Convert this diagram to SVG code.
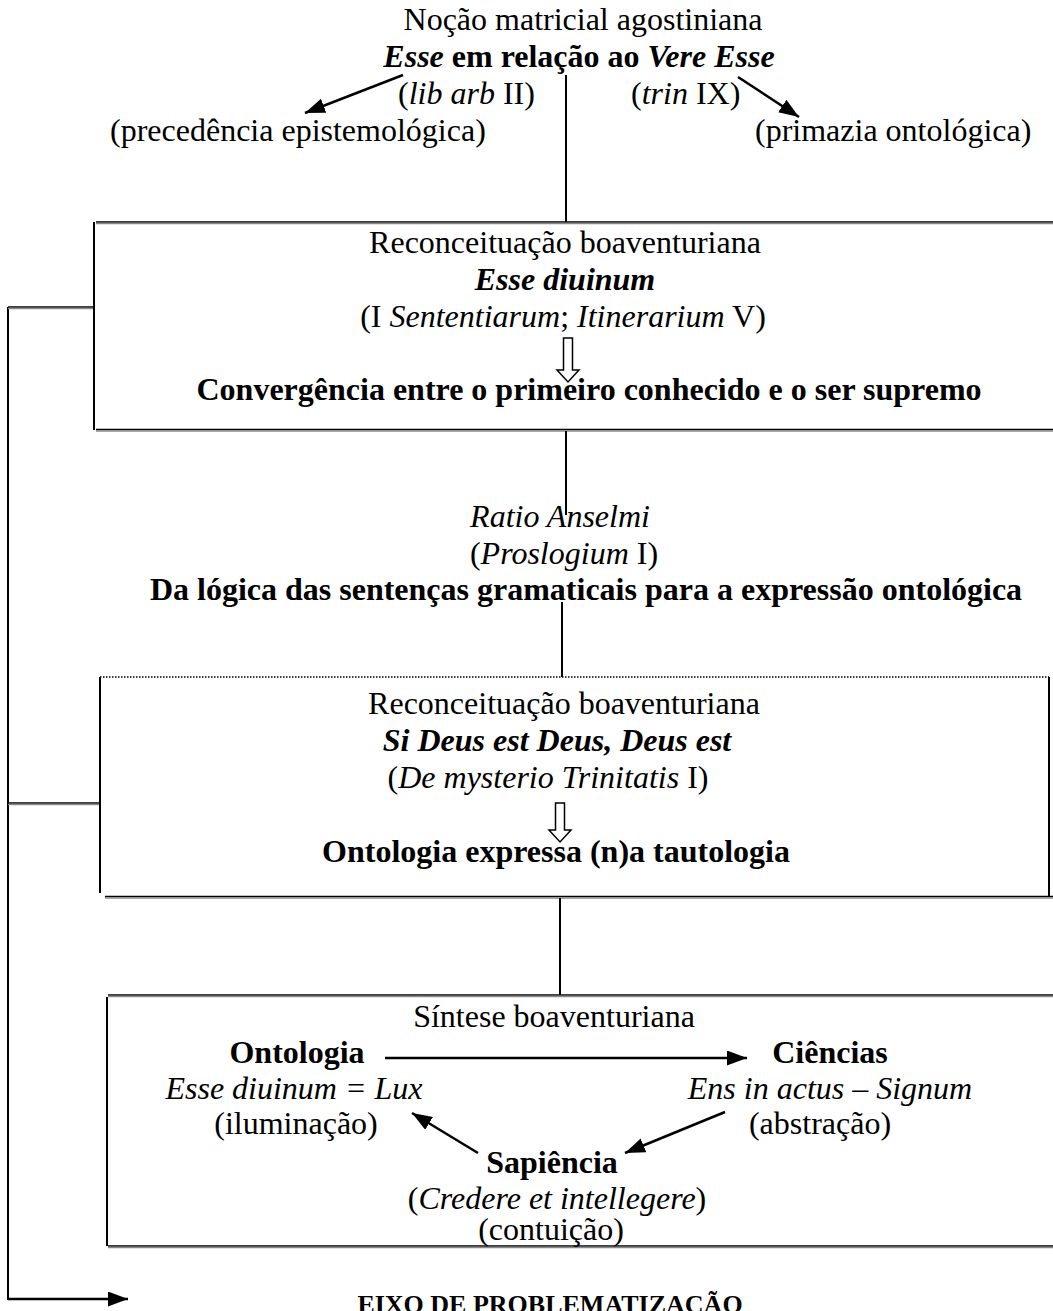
<svg xmlns="http://www.w3.org/2000/svg" width="1053" height="1311" viewBox="0 0 1053 1311">
<defs>
<style>
text{font-family:"Liberation Serif","Times New Roman",serif;font-size:32px;fill:#000}
.m{text-anchor:middle}
.b{font-weight:bold}
.i{font-style:italic}
.ln{stroke:#000;stroke-width:2;fill:none}
.ar{stroke:#000;stroke-width:2.5;fill:none}
.bl{stroke:#000;stroke-width:1.5;fill:none}
.sh{stroke:#8a8a8a;stroke-width:1.5;fill:none}
.dot{stroke:#000;stroke-width:1.5;stroke-dasharray:1.5 1.5;fill:none}
.ha{fill:#fff;stroke:#000;stroke-width:1.5}
</style>
<marker id="ah" markerUnits="userSpaceOnUse" markerWidth="22" markerHeight="16" refX="20" refY="7.5" orient="auto">
<path d="M0,0 L20,7.5 L0,15 z" fill="#000"/>
</marker>
</defs>
<rect width="1053" height="1311" fill="#fff"/>

<g id="top">
<text class="m" x="583" y="30">Noção matricial agostiniana</text>
<text class="m b" x="579" y="67"><tspan class="i">Esse</tspan> em relação ao <tspan class="i">Vere Esse</tspan></text>
<text x="398" y="104">(<tspan class="i">lib arb</tspan> II)</text>
<text x="631" y="104">(<tspan class="i">trin</tspan> IX)</text>
<text x="110" y="141">(precedência epistemológica)</text>
<text x="755" y="141">(primazia ontológica)</text>
</g>

<g id="box1">
<line class="bl" x1="96" y1="222" x2="1053" y2="222"/>
<line class="sh" x1="96" y1="223.5" x2="1053" y2="223.5"/>
<line class="ln" x1="94" y1="222" x2="94" y2="430"/>
<line class="bl" x1="96" y1="429.5" x2="1053" y2="429.5"/>
<line class="sh" x1="96" y1="431" x2="1053" y2="431"/>
<text class="m" x="565" y="253">Reconceituação boaventuriana</text>
<text class="m b i" x="565" y="290">Esse diuinum</text>
<text class="m" x="563" y="327">(I <tspan class="i">Sententiarum</tspan>; <tspan class="i">Itinerarium</tspan> V)</text>
<path class="ha" d="M563.5,338 H572.5 V370 H579 L568,382 L557,370 H563.5 Z"/>
<text class="m b" x="589" y="400">Convergência entre o primeiro conhecido e o ser supremo</text>
</g>

<g id="mid">
<text class="m i" x="560" y="527">Ratio Anselmi</text>
<text class="m" x="564" y="564">(<tspan class="i">Proslogium</tspan> I)</text>
<text class="m b" x="586" y="600">Da lógica das sentenças gramaticais para a expressão ontológica</text>
</g>

<g id="box2">
<line class="dot" x1="100" y1="677" x2="1049" y2="677"/>
<line class="ln" x1="100" y1="677" x2="100" y2="893"/>
<line class="ln" x1="1049" y1="677" x2="1049" y2="897"/>
<line class="bl" x1="105" y1="896.5" x2="1053" y2="896.5"/>
<line class="sh" x1="105" y1="898" x2="1053" y2="898"/>
<text class="m" x="564" y="714">Reconceituação boaventuriana</text>
<text class="m b i" x="557" y="751">Si Deus est Deus, Deus est</text>
<text class="m" x="548" y="788">(<tspan class="i">De mysterio Trinitatis</tspan> I)</text>
<path class="ha" d="M555.5,803 H564.5 V830 H571 L560,842 L549,830 H555.5 Z"/>
<text class="m b" x="556" y="862">Ontologia expressa (n)a tautologia</text>
</g>

<g id="box3">
<line class="bl" x1="108" y1="995" x2="1053" y2="995"/>
<line class="sh" x1="108" y1="996.5" x2="1053" y2="996.5"/>
<line class="ln" x1="107" y1="997" x2="107" y2="1246"/>
<line class="bl" x1="108" y1="1246" x2="1053" y2="1246"/>
<line class="sh" x1="108" y1="1247.5" x2="1053" y2="1247.5"/>
<text class="m" x="554" y="1027">Síntese boaventuriana</text>
<text class="m b" x="297" y="1063">Ontologia</text>
<text class="m b" x="830" y="1063">Ciências</text>
<text class="m i" x="294" y="1099">Esse diuinum = Lux</text>
<text class="m i" x="830" y="1099">Ens in actus – Signum</text>
<text class="m" x="296" y="1134">(iluminação)</text>
<text class="m" x="820" y="1134">(abstração)</text>
<text class="m b" x="552" y="1173">Sapiência</text>
<text class="m" x="557" y="1209">(<tspan class="i">Credere et intellegere</tspan>)</text>
<text class="m" x="551" y="1240">(contuição)</text>
</g>

<g id="axis-label">
<text class="m b" x="550" y="1313" style="font-size:26px">EIXO DE PROBLEMATIZAÇÃO</text>
</g>

<g id="connectors">
<line class="ar" x1="403" y1="75" x2="305" y2="113" marker-end="url(#ah)"/>
<line class="ar" x1="738" y1="77" x2="799" y2="117" marker-end="url(#ah)"/>
<line class="ln" x1="566" y1="75" x2="566" y2="222"/>
<line class="ln" x1="566" y1="431" x2="566" y2="515"/>
<line class="ln" x1="562" y1="602" x2="562" y2="677"/>
<line class="ln" x1="560" y1="898" x2="560" y2="995"/>
<line class="ar" x1="385" y1="1058" x2="747" y2="1058" marker-end="url(#ah)"/>
<line class="ar" x1="478" y1="1153" x2="412" y2="1113" marker-end="url(#ah)"/>
<line class="ar" x1="725" y1="1112" x2="625" y2="1153" marker-end="url(#ah)"/>
<line class="ln" x1="8" y1="307" x2="8" y2="1300"/>
<line class="bl" x1="8" y1="307" x2="93" y2="307"/>
<line class="sh" x1="8" y1="308.5" x2="93" y2="308.5"/>
<line class="bl" x1="8" y1="803" x2="99" y2="803"/>
<line class="sh" x1="8" y1="804.5" x2="99" y2="804.5"/>
<line class="ar" x1="8" y1="1299" x2="128" y2="1299" marker-end="url(#ah)"/>
</g>
</svg>
